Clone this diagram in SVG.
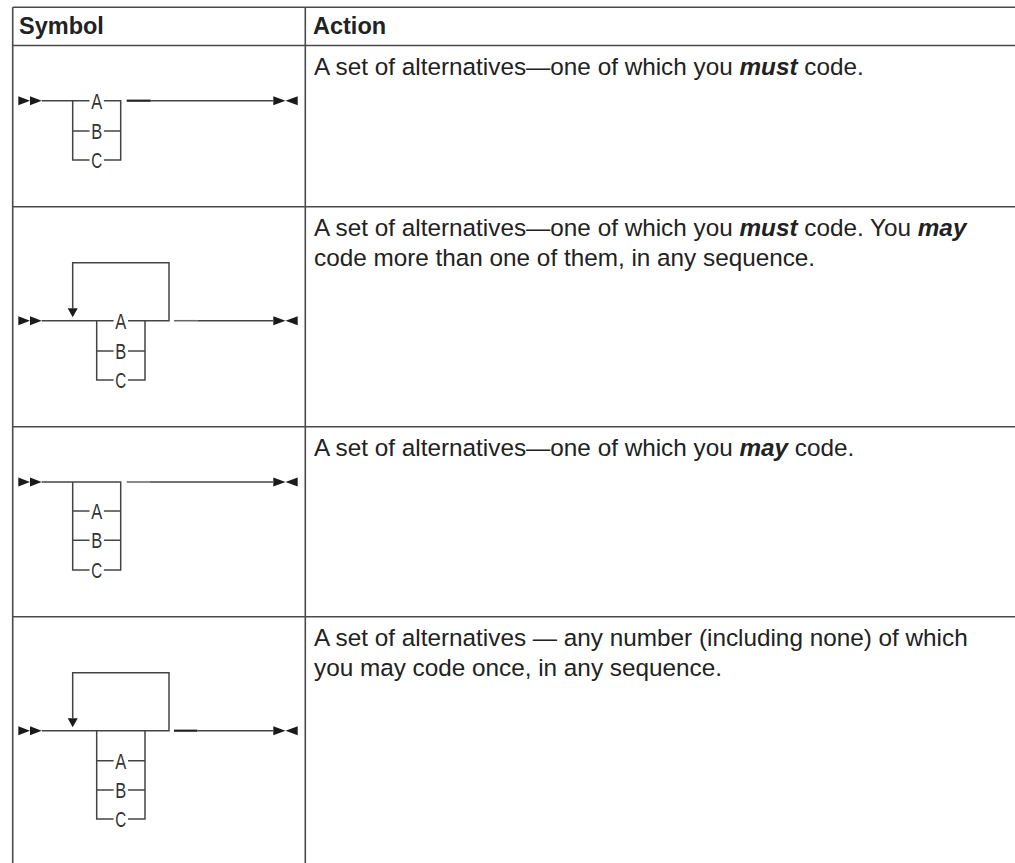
<svg xmlns="http://www.w3.org/2000/svg" xmlns:xlink="http://www.w3.org/1999/xlink" width="1015" height="863" viewBox="0 0 1015 863">
<style>
.grid{stroke:#4a4a4a;stroke-width:1.6;fill:none}
.ln{stroke:#444;stroke-width:1.5;fill:none}
.dash{stroke:#222;stroke-width:2.2;fill:none}
.ah{fill:#1a1a1a}
.hd{font-family:"Liberation Sans",Arial,sans-serif;font-weight:bold;font-size:23.5px;fill:#222}
.tx{font-family:"Liberation Sans",Arial,sans-serif;font-size:24.3px;fill:#222}
.em{font-weight:bold;font-style:italic}
.lt{font-family:"Liberation Sans",Arial,sans-serif;font-size:22px;fill:#333;text-anchor:middle}
</style>
<defs>
<g id="start"><polygon class="ah" points="0,-4.5 11.7,0 0,4.5"/><polygon class="ah" points="11.7,-4.5 23.4,0 11.7,4.5"/></g>
<g id="end"><polygon class="ah" points="0,-4.5 12.2,0 0,4.5"/><polygon class="ah" points="24.4,-4.5 12.2,0 24.4,4.5"/></g>
<polygon id="down" class="ah" points="-5,-12.5 5,-12.5 0,-3.5"/>
</defs>
<rect width="1015" height="863" fill="#fff"/>
<g id="grid" class="grid">
<line x1="12.7" y1="7.3" x2="1015" y2="7.3"/>
<line x1="12.7" y1="45.5" x2="1015" y2="45.5"/>
<line x1="12.7" y1="206.7" x2="1015" y2="206.7"/>
<line x1="12.7" y1="426.7" x2="1015" y2="426.7"/>
<line x1="12.7" y1="616.7" x2="1015" y2="616.7"/>
<line x1="12.7" y1="7.3" x2="12.7" y2="863"/>
<line x1="305.3" y1="7.3" x2="305.3" y2="863"/>
</g>
<g id="header">
<text class="hd" x="19" y="33.5">Symbol</text>
<text class="hd" x="313" y="33.5">Action</text>
</g>
<g id="row1">
<g id="row1-diagram">
<use xlink:href="#start" x="18.3" y="100.7"/>
<use xlink:href="#end" x="273.3" y="100.7"/>
<text class="lt" x="96.7" y="108.5" textLength="11" lengthAdjust="spacingAndGlyphs">A</text>
<text class="lt" x="96.7" y="138.8" textLength="11" lengthAdjust="spacingAndGlyphs">B</text>
<text class="lt" x="96.7" y="167.8" textLength="11" lengthAdjust="spacingAndGlyphs">C</text>
</g>
<text class="tx" x="314" y="75">A set of alternatives—one of which you <tspan class="em">must</tspan> code.</text>
</g>
<g id="row2">
<g id="row2-diagram">
<use xlink:href="#start" x="18.3" y="320.7"/>
<use xlink:href="#end" x="273.3" y="320.7"/>
<use xlink:href="#down" x="72.7" y="320.7"/>
<text class="lt" x="120.8" y="328.5" textLength="11" lengthAdjust="spacingAndGlyphs">A</text>
<text class="lt" x="120.8" y="358.8" textLength="11" lengthAdjust="spacingAndGlyphs">B</text>
<text class="lt" x="120.8" y="387.8" textLength="11" lengthAdjust="spacingAndGlyphs">C</text>
</g>
<text class="tx" x="314" y="236"><tspan>A set of alternatives—one of which you <tspan class="em">must</tspan> code. You <tspan class="em">may</tspan></tspan><tspan x="314" y="266">code more than one of them, in any sequence.</tspan></text>
</g>
<g id="row3">
<g id="row3-diagram">
<use xlink:href="#start" x="18.3" y="482"/>
<use xlink:href="#end" x="273.3" y="482"/>
<text class="lt" x="96.7" y="518.8" textLength="11" lengthAdjust="spacingAndGlyphs">A</text>
<text class="lt" x="96.7" y="548.1" textLength="11" lengthAdjust="spacingAndGlyphs">B</text>
<text class="lt" x="96.7" y="577.8" textLength="11" lengthAdjust="spacingAndGlyphs">C</text>
</g>
<text class="tx" x="314" y="456">A set of alternatives—one of which you <tspan class="em">may</tspan> code.</text>
</g>
<g id="row4">
<g id="row4-diagram">
<use xlink:href="#start" x="18.3" y="730.7"/>
<use xlink:href="#end" x="273.3" y="730.7"/>
<use xlink:href="#down" x="72.7" y="730.7"/>
<text class="lt" x="120.8" y="768.5" textLength="11" lengthAdjust="spacingAndGlyphs">A</text>
<text class="lt" x="120.8" y="797.8" textLength="11" lengthAdjust="spacingAndGlyphs">B</text>
<text class="lt" x="120.8" y="826.8" textLength="11" lengthAdjust="spacingAndGlyphs">C</text>
</g>
<text class="tx" x="314" y="646"><tspan>A set of alternatives — any number (including none) of which</tspan><tspan x="314" y="676">you may code once, in any sequence.</tspan></text>
</g>
<g id="connectors">
<g class="ln">
<path d="M41.7,100.7 H89.5 M103.9,100.7 H120.7 V160 H103.9 M89.5,160 H72.7 V100.7 M72.7,131 H89.5 M103.9,131 H120.7 M150.7,100.7 H273.3"/>
<path d="M41.7,320.7 H113.6 M128,320.7 H169 V262.7 H72.7 V308.2 M96.7,320.7 V380 H113.6 M128,380 H145 V320.7 M96.7,351 H113.6 M128,351 H145 M197.3,320.7 H273.3"/>
<path d="M41.7,482 H120.7 V570 H103.9 M89.5,570 H72.7 V482 M72.7,511 H89.5 M103.9,511 H120.7 M72.7,540.3 H89.5 M103.9,540.3 H120.7 M150,482 H273.3"/>
<path d="M41.7,730.7 H169 V672.7 H72.7 V718.2 M96.7,730.7 V819 H113.6 M128,819 H145 V730.7 M96.7,760.7 H113.6 M128,760.7 H145 M96.7,790 H113.6 M128,790 H145 M197.3,730.7 H273.3"/>
</g>
<g class="dash">
<line x1="126.7" y1="100.7" x2="150.7" y2="100.7"/>
<line x1="174" y1="320.7" x2="197.3" y2="320.7" style="stroke:#666;stroke-width:1.5"/>
<line x1="126.7" y1="482" x2="150" y2="482" style="stroke:#666;stroke-width:1.5"/>
<line x1="174" y1="730.7" x2="197.3" y2="730.7"/>
</g>
</g>
</svg>
